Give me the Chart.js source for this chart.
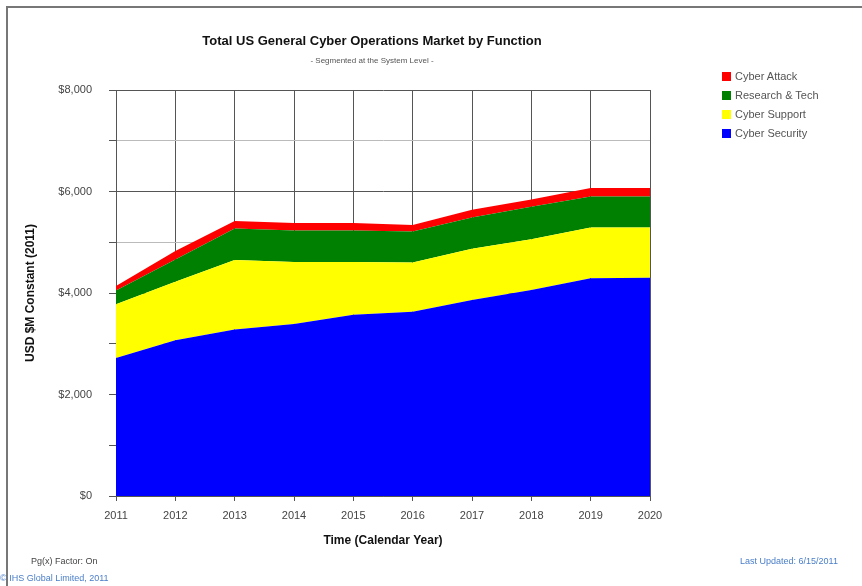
<!DOCTYPE html>
<html lang="en">
<head>
    <meta charset="UTF-8">
    <title>Total US General Cyber Operations Market by Function</title>
    <script src="https://cdn.jsdelivr.net/npm/chart.js@4.4.1/dist/chart.umd.min.js"></script>
    <style>
        html, body {
            margin: 0;
            padding: 0;
            background: #fff;
            width: 862px;
            height: 586px;
            overflow: hidden;
            font-family: 'Liberation Sans', Arial, sans-serif;
        }
        .frame {
            position: absolute;
            left: 6px;
            top: 6px;
            width: 900px;
            height: 600px;
            border-top: 2px solid #777;
            border-left: 2px solid #777;
        }
        #wrap {
            position: absolute;
            left: 0;
            top: 0;
            width: 862px;
            height: 586px;
        }
        .txt {
            position: absolute;
            white-space: nowrap;
        }
        .title { left: 0; width: 744px; top: 33px; text-align: center; font-size: 13px; font-weight: bold; color: #111; }
        .sub { left: 0; width: 744px; top: 56px; text-align: center; font-size: 8px; color: #555; }
        .legend { left: 722px; top: 69px; font-size: 11px; color: #555; }
        .legend div { height: 19px; line-height: 14px; }
        .legend span { display: inline-block; width: 9px; height: 9px; margin-right: 4px; vertical-align: -1px; }
        .note { font-size: 9px; color: #444; }
        .blue { color: #4a7ec8; }
    </style>
</head>
<body>
<div class="frame"></div>
<div id="wrap"><canvas id="myChart" width="862" height="586"></canvas></div>

<div class="txt title">Total US General Cyber Operations Market by Function</div>
<div class="txt sub">- Segmented at the System Level -</div>
<div class="txt legend" id="legend"></div>
<div class="txt note" style="left:31px; top:556px;">Pg(x) Factor: On</div>
<div class="txt note blue" style="left:0; top:573px;">© IHS Global Limited, 2011</div>
<div class="txt note blue" style="left:740px; top:556px;">Last Updated: 6/15/2011</div>

<script>
    const years = ['2011', '2012', '2013', '2014', '2015', '2016', '2017', '2018', '2019', '2020']
    const cyberSecurity = [2720, 3070, 3280, 3390, 3570, 3630, 3860, 4060, 4290, 4300]
    const cyberSupport = [1060, 1150, 1370, 1220, 1040, 970, 1010, 1000, 1000, 990]
    const researchTech = [270, 440, 620, 620, 620, 610, 620, 640, 610, 610]
    const cyberAttack = [90, 170, 150, 150, 150, 130, 150, 140, 170, 170]
    const yTicks = [0, 2000, 4000, 6000, 8000]

    const series = [
        {label: 'Cyber Security', data: cyberSecurity, color: '#0000ff'},
        {label: 'Cyber Support', data: cyberSupport, color: '#ffff00'},
        {label: 'Research & Tech', data: researchTech, color: '#008000'},
        {label: 'Cyber Attack', data: cyberAttack, color: '#ff0000'}
    ]

    // legend on the right, top entry is the top layer
    document.getElementById('legend').innerHTML = series.slice().reverse()
        .map(s => '<div><span style="background:' + s.color + '"></span>' + s.label.replace('&', '&amp;') + '</div>')
        .join('')

    const ctx = document.getElementById('myChart').getContext('2d');
    const myChart = new Chart(ctx, {
        type: 'line',
        data: {
            labels: years,
            datasets: series.map((s, i) => ({
                label: s.label,
                data: s.data,
                backgroundColor: s.color,
                borderWidth: 0,
                pointRadius: 0,
                tension: 0,
                fill: i === 0 ? 'origin' : '-1'
            }))
        },
        options: {
            responsive: false,
            animation: false,
            layout: {
                padding: {left: 23, right: 212, top: 90, bottom: 34}
            },
            plugins: {
                legend: {display: false},
                tooltip: {enabled: false}
            },
            scales: {
                x: {
                    offset: false,
                    grid: {
                        color: '#555',
                        lineWidth: 1,
                        tickLength: 5,
                        tickColor: '#555'
                    },
                    border: {color: '#555'},
                    ticks: {
                        color: '#444',
                        font: {family: 'Liberation Sans', size: 11},
                        maxRotation: 0,
                        padding: 8
                    },
                    title: {
                        display: true,
                        text: 'Time (Calendar Year)',
                        color: '#111',
                        font: {family: 'Liberation Sans', size: 12, weight: 'bold'},
                        padding: {top: 4, bottom: 4}
                    },
                    afterFit: scale => { scale.height = 56 }
                },
                y: {
                    stacked: true,
                    min: 0,
                    max: 8000,
                    grid: {
                        color: c => c.tick && yTicks.includes(c.tick.value) ? '#555' : '#bbb',
                        lineWidth: 1,
                        tickLength: 7,
                        tickColor: '#555'
                    },
                    border: {color: '#555'},
                    ticks: {
                        stepSize: 1000,
                        color: '#444',
                        font: {family: 'Liberation Sans', size: 11},
                        padding: 17,
                        callback: v => yTicks.includes(v) ? '$' + v.toLocaleString('en-US') : ''
                    },
                    title: {
                        display: true,
                        text: 'USD $M Constant (2011)',
                        color: '#111',
                        font: {family: 'Liberation Sans', size: 12, weight: 'bold'},
                        padding: {top: 0, bottom: 8}
                    },
                    afterFit: scale => { scale.width = 93 }
                }
            }
        }
    });
</script>
</body>
</html>
